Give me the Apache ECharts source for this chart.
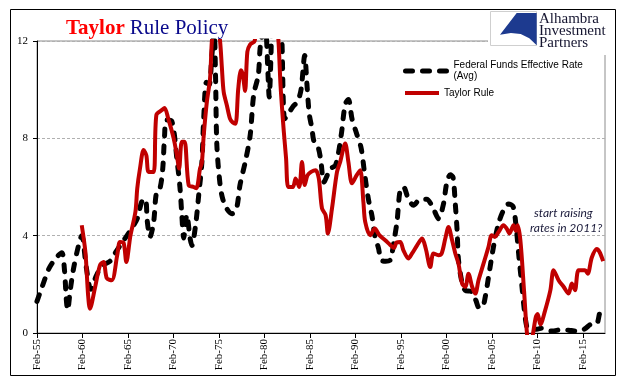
<!DOCTYPE html>
<html>
<head>
<meta charset="utf-8">
<script src="https://cdn.jsdelivr.net/npm/echarts@6/dist/echarts.min.js"></script>
<style>
html,body{margin:0;padding:0;background:#fff;}
#chart{width:625px;height:381px;}
</style>
</head>
<body>
<div id="chart"></div>
<script>
// Federal Funds Effective Rate (Avg): decimal year, percent
const fedYears = [1955.08,1955.6,1956.4,1957.1,1957.8,1958.1,1958.3,1958.45,1958.75,1959.1,1959.65,1960.0,1960.5,1961.0,1961.6,1962.2,1963.1,1963.7,1964.4,1964.97,1965.5,1966.1,1966.6,1967.0,1967.2,1967.5,1967.9,1968.2,1968.6,1968.9,1969.1,1969.3,1969.9,1970.5,1970.8,1971.0,1971.2,1971.55,1971.9,1972.1,1972.5,1972.85,1973.2,1973.4,1973.7,1974.0,1974.3,1974.55,1974.7,1974.85,1975.2,1975.5,1975.95,1976.5,1977.0,1977.4,1977.95,1978.5,1978.9,1979.4,1979.6,1979.8,1980.0,1980.25,1980.45,1980.6,1980.8,1981.0,1981.5,1981.8,1982.0,1982.3,1982.7,1983.2,1983.7,1984.1,1984.5,1984.75,1985.0,1985.3,1985.5,1986.0,1986.3,1986.6,1987.0,1987.3,1987.9,1988.5,1988.95,1989.3,1989.7,1990.2,1990.7,1991.1,1991.5,1991.9,1992.2,1992.6,1992.9,1993.4,1993.9,1994.3,1994.65,1995.0,1995.35,1995.9,1996.45,1997.2,1997.9,1998.7,1999.2,1999.75,2000.1,2000.5,2000.8,2001.05,2001.25,2001.4,2001.8,2002.15,2002.8,2003.3,2003.65,2004.0,2004.35,2004.7,2005.25,2005.8,2006.35,2006.9,2007.4,2007.75,2008.05,2008.35,2008.65,2008.95,2009.3,2010.0,2010.5,2011.0,2011.7,2012.7,2013.8,2014.3,2014.9,2015.4,2015.8,2016.3,2016.6,2016.9,2017.1,2017.45];
const fedRates = [1.3,1.85,2.65,3.05,3.3,2.6,1.4,0.95,1.8,2.65,3.6,4.0,2.7,1.8,2.35,2.75,2.95,3.3,3.7,4.0,4.3,4.7,5.4,5.5,4.6,3.95,4.55,5.75,5.95,6.75,8.1,8.75,8.7,7.0,5.95,4.85,3.9,4.85,3.9,3.6,4.4,5.65,7.0,8.8,10.3,10.2,11.4,12.4,10.6,7.7,6.1,5.5,5.1,4.9,5.1,6.1,7.0,8.1,9.8,10.6,11.7,12.2,13.5,12.5,10.8,9.7,11.5,15.0,15.5,14.0,12.0,8.8,9.0,9.3,9.5,10.0,11.4,10.2,9.0,8.4,7.9,7.6,7.0,6.2,6.5,6.75,6.9,8.1,9.4,9.6,8.8,8.2,7.6,6.5,5.5,4.8,4.0,3.5,3.0,2.95,3.0,3.75,4.6,5.9,6.0,5.5,5.25,5.5,5.5,5.05,4.7,5.3,6.15,6.5,6.4,5.3,4.2,3.0,2.05,1.75,1.7,1.35,1.05,1.05,1.5,2.3,3.55,4.5,5.05,5.3,5.2,4.3,3.1,2.0,0.9,0.2,0.15,0.15,0.2,0.12,0.08,0.14,0.1,0.08,0.1,0.2,0.33,0.42,0.4,0.8,1.0,1.05];

// Taylor Rule: decimal year, percent
const taylorYears = [1960.0,1960.4,1960.7,1960.9,1961.45,1962.0,1962.4,1962.75,1963.3,1963.9,1964.2,1964.6,1964.9,1965.35,1965.9,1966.1,1966.4,1966.8,1967.1,1967.35,1967.9,1968.2,1968.8,1969.1,1969.5,1970.1,1970.45,1970.7,1971.0,1971.3,1971.75,1972.3,1972.6,1973.0,1973.2,1973.4,1973.75,1974.1,1974.3,1974.7,1975.2,1975.4,1975.6,1975.95,1976.3,1976.6,1976.9,1977.2,1977.5,1977.7,1977.95,1978.2,1978.5,1979.0,1979.5,1980.5,1981.2,1981.6,1981.85,1982.2,1982.45,1982.7,1983.2,1983.5,1983.9,1984.2,1984.5,1984.8,1985.2,1985.7,1986.05,1986.4,1986.8,1987.05,1987.5,1988.05,1988.4,1988.95,1989.3,1989.7,1990.2,1990.6,1990.95,1991.15,1991.7,1992.2,1992.7,1993.35,1993.9,1994.3,1994.6,1995.0,1995.35,1995.9,1996.3,1996.85,1997.4,1997.8,1998.3,1998.65,1999.2,1999.55,1999.95,2000.3,2000.7,2001.05,2001.4,2001.8,2002.15,2002.5,2002.9,2003.25,2003.6,2004.15,2004.7,2005.05,2005.4,2005.8,2006.35,2006.7,2007.0,2007.45,2007.7,2007.9,2008.2,2008.6,2008.9,2009.15,2009.4,2009.6,2009.9,2010.1,2010.4,2010.9,2011.5,2011.85,2012.4,2012.95,2013.5,2013.85,2014.2,2014.6,2015.3,2015.6,2016.05,2016.6,2016.9,2017.3];
const taylorRates = [4.43,3.33,1.55,1.0,1.85,2.78,2.92,2.25,2.17,3.2,3.74,3.7,2.92,4.0,4.98,5.94,6.76,7.52,7.3,6.62,6.62,8.96,9.16,9.25,8.82,8.0,7.31,6.76,7.86,7.86,6.08,6.0,5.95,6.76,7.0,8.1,9.5,10.46,12.0,13.5,12.0,10.9,9.9,9.35,8.8,8.65,8.6,10.05,10.8,10.6,9.95,11.56,11.85,12.0,13.5,14.0,13.5,12.1,10.15,8.3,7.2,6.0,6.0,6.35,6.0,7.03,6.08,6.48,6.62,6.69,6.35,5.12,4.84,4.09,5.12,6.62,7.03,7.79,7.03,6.15,6.48,6.69,5.39,4.57,4.02,4.29,4.02,3.81,3.62,3.5,3.72,3.74,3.4,3.06,3.27,3.6,3.88,3.47,2.71,3.27,3.2,3.27,3.88,4.36,3.81,3.27,2.85,2.03,1.9,2.44,1.9,1.62,2.17,2.85,3.54,4.02,3.95,4.15,4.43,4.29,4.09,4.43,4.2,4.43,3.81,1.76,0.1,-0.6,-0.4,0.0,0.66,0.78,0.35,0.9,1.76,2.58,2.17,1.9,1.62,2.03,1.76,2.58,2.58,2.44,3.1,3.45,3.33,2.95];

const xTickLabels = ['Feb-55','Feb-60','Feb-65','Feb-70','Feb-75','Feb-80','Feb-85','Feb-90','Feb-95','Feb-00','Feb-05','Feb-10','Feb-15'];
const yTicks = [0, 4, 8, 12];

const toMonth = y => (y - 1955.0833) * 12;
const fedData = fedYears.map((y, i) => [toMonth(y), fedRates[i]]);
const taylorData = taylorYears.map((y, i) => [toMonth(y), taylorRates[i]]);

const chart = echarts.init(document.getElementById('chart'), null, {renderer: 'canvas'});
const serif = 'Liberation Serif';
const sans = 'Liberation Sans';

chart.setOption({
  animation: false,
  backgroundColor: '#ffffff',
  title: {
    left: 61, top: 13,
    text: '{a|Taylor} {b|Rule Policy}',
    textStyle: {
      fontWeight: 'normal',
      rich: {
        a: {fontFamily: serif, fontSize: 21, fontWeight: 'bold', color: '#ff0000'},
        b: {fontFamily: serif, fontSize: 21, fontWeight: 'normal', color: '#0a0a8c'}
      }
    }
  },
  grid: {left: 37, right: 20, top: 41, bottom: 48, show: true, borderColor: '#8c8c8c', borderWidth: 1},
  xAxis: {
    type: 'value', min: 0, max: 749, interval: 60,
    axisLine: {lineStyle: {color: '#000', width: 1}},
    axisTick: {length: 5, lineStyle: {color: '#000'}},
    splitLine: {show: false},
    axisLabel: {
      rotate: 90, margin: 6, color: '#000', fontFamily: serif, fontSize: 11,
      showMaxLabel: false,
      formatter: v => (Math.abs(v % 60) < 1e-6 ? (xTickLabels[Math.round(v / 60)] || '') : '')
    }
  },
  yAxis: {
    type: 'value', min: yTicks[0], max: yTicks[yTicks.length - 1], interval: 4,
    axisLine: {show: true, lineStyle: {color: '#000', width: 1}},
    axisTick: {show: true, length: 4, lineStyle: {color: '#000'}},
    splitLine: {show: true, lineStyle: {color: '#b0b0b0', type: [3, 2], width: 1}},
    axisLabel: {margin: 9, color: '#000', fontFamily: serif, fontSize: 11}
  },
  legend: [
    {
      left: 403, top: 54.5, padding: 0, itemWidth: 43, itemHeight: 10,
      itemStyle: {opacity: 0},
      lineStyle: {width: 5, type: [7, 10], cap: 'round', color: '#000'},
      data: [{name: 'Federal Funds Effective Rate (Avg)'}],
      formatter: () => 'Federal Funds Effective Rate\n(Avg)',
      textStyle: {fontFamily: sans, fontSize: 10, color: '#000', lineHeight: 11, padding: [11, 0, 0, 0]}
    },
    {
      left: 403, top: 87.5, padding: 0, itemWidth: 34, itemHeight: 10,
      itemStyle: {opacity: 0},
      lineStyle: {width: 4, color: '#c00000'},
      data: [{name: 'Taylor Rule'}],
      textStyle: {fontFamily: sans, fontSize: 10, color: '#000', lineHeight: 11}
    }
  ],
  series: [
    {
      name: 'Federal Funds Effective Rate (Avg)', type: 'line', data: fedData,
      symbol: 'none', smooth: 0.3, clip: true,
      lineStyle: {color: '#000', width: 5, type: [7, 10], cap: 'round', join: 'round'},
      itemStyle: {color: '#000'}
    },
    {
      name: 'Taylor Rule', type: 'line', data: taylorData,
      symbol: 'none', smooth: 0.3, clip: true,
      lineStyle: {color: '#c00000', width: 4, join: 'round'},
      itemStyle: {color: '#c00000'}
    }
  ],
  graphic: [
    {type: 'rect', z: 100, silent: true, shape: {x: 10.5, y: 9.5, width: 605, height: 366}, style: {fill: 'none', stroke: '#000', lineWidth: 1}},
    {type: 'rect', z: 50, silent: true, shape: {x: 488, y: 10, width: 127, height: 45}, style: {fill: '#fff'}},
    {type: 'rect', z: 51, silent: true, shape: {x: 490.5, y: 11.5, width: 46, height: 34}, style: {fill: 'none', stroke: '#cfcfcf', lineWidth: 1}},
    {type: 'polygon', z: 52, silent: true, shape: {points: [[516.7,13],[536.7,13],[536.7,45.3],[529.3,38.2],[520.7,34.0],[510.9,32.9],[500,34.7]]}, style: {fill: '#1d3a8f'}},
    {type: 'text', z: 53, silent: true, left: 539, top: 12, style: {text: 'Alhambra', font: '15px "Liberation Serif"', fill: '#151530'}},
    {type: 'text', z: 53, silent: true, left: 539, top: 24, style: {text: 'Investment', font: '15px "Liberation Serif"', fill: '#151530'}},
    {type: 'text', z: 53, silent: true, left: 539, top: 36, style: {text: 'Partners', font: '15px "Liberation Serif"', fill: '#151530'}},
    {type: 'text', z: 60, silent: true, left: 534, top: 207, style: {text: 'start raising', font: 'italic 12px Lato', fill: '#1a1a3a'}},
    {type: 'text', z: 60, silent: true, left: 530, top: 222, style: {text: 'rates in 2011?', font: 'italic 12px Lato', fill: '#1a1a3a'}}
  ]
});
</script>
</body>
</html>
